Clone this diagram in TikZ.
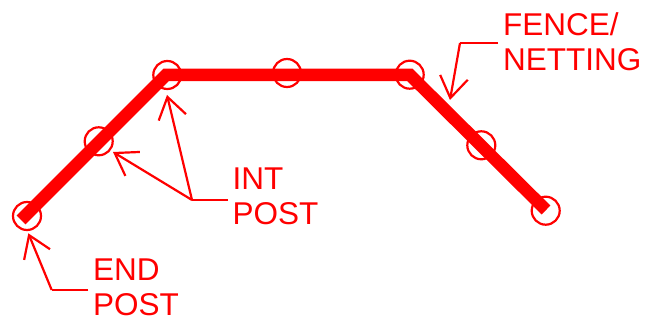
\documentclass[tikz,border=0pt]{standalone}
\usepackage{fontspec}
\setmainfont{Liberation Sans}
\usetikzlibrary{arrows.meta}
\definecolor{fencered}{RGB}{255,0,0}
\begin{document}
\begin{tikzpicture}[x=1pt,y=-1pt,
  post/.style={circle,draw=fencered,line width=2.2pt,minimum size=28pt,inner sep=0pt},
  fenceline/.style={draw=fencered,line width=12.5pt,line join=miter,line cap=butt},
  leader/.style={draw=fencered,line width=2.2pt,-{Straight Barb[length=21pt,width=28pt,line width=2.2pt]}},
  leaderline/.style={draw=fencered,line width=2.2pt},
  lbl/.style={text=fencered,font=\fontsize{31.5}{35}\selectfont,align=left,inner sep=0pt,anchor=north west}]
  \useasboundingbox (0,0) rectangle (656,323);

  % fence run
  \coordinate (f0) at (21,220);
  \coordinate (f1) at (166,75);
  \coordinate (f2) at (410,75);
  \coordinate (f3) at (546,210);
  \draw[fenceline] (f0) -- (f1) -- (f2) -- (f3);

  % posts
  \node[post] (p1) at (27,216) {};
  \node[post] (p2) at (98.7,141.3) {};
  \node[post] (p3) at (167.3,75) {};
  \node[post] (p4) at (287,73) {};
  \node[post] (p5) at (409.7,74.7) {};
  \node[post] (p6) at (481.3,145.3) {};
  \node[post] (p7) at (545.7,210.7) {};

  % labels
  \node[lbl] (endlbl) at (93,259) {END\\POST};
  \node[lbl] (intlbl) at (232.5,168) {INT\\POST};
  \node[lbl] (fencelbl) at (503,12) {FENCE/\\NETTING};

  % END POST leader
  \coordinate (eb) at (51.7,290);
  \coordinate (et) at (28.3,233.3);
  \draw[leaderline] (88.3,290) coordinate (es) -- (eb);
  \draw[leader] (eb) -- (et);

  % INT POST leaders
  \coordinate (ib) at (192,200);
  \coordinate (it1) at (113,152);
  \coordinate (it2) at (167,95);
  \draw[leaderline] (228,200) coordinate (is) -- (ib);
  \draw[leader] (ib) -- (it1);
  \draw[leader] (ib) -- (it2);

  % FENCE/NETTING leader
  \coordinate (fb) at (460,43);
  \coordinate (ft) at (450,100);
  \draw[leaderline] (498,43) coordinate (fs) -- (fb);
  \draw[leader] (fb) -- (ft);
\end{tikzpicture}
\end{document}
